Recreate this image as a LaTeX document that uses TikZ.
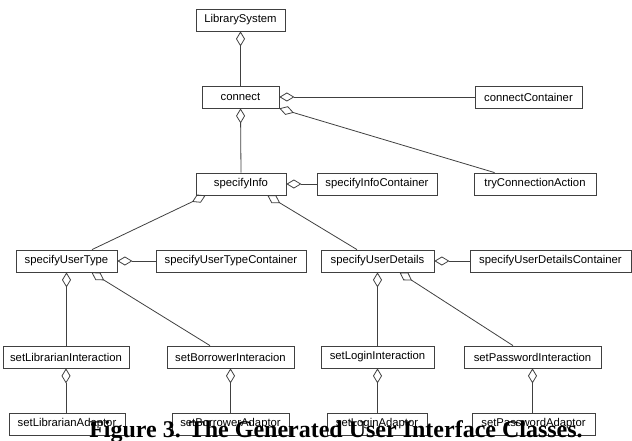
\documentclass[tikz,border=0pt]{standalone}
\usepackage{fontspec}
\setmainfont{Liberation Serif}
\setsansfont{Liberation Sans}
\usetikzlibrary{arrows.meta}
\begin{document}
\begin{tikzpicture}[x=1pt,y=-1pt,
  cls/.style={draw=black!75, line width=0.8pt, minimum height=22pt, inner sep=0pt,
    font=\sffamily\fontsize{11.3}{13}\selectfont, fill=white},
  agg/.style={draw=black!75, line width=0.8pt,
    {Diamond[open, length=15pt, width=9pt]}-}]
\useasboundingbox (0,0) rectangle (632,441);
\node[cls, minimum width=89pt] (ls) at (240.5,20) {LibrarySystem};
\node[cls, minimum width=77pt] (cn) at (240.5,97) {connect};
\node[cls, minimum width=107pt] (cc) at (528.5,97) {connectContainer};
\node[cls, minimum width=90pt] (si) at (241,184) {specifyInfo};
\node[cls, minimum width=120pt] (sic) at (377,184) {specifyInfoContainer};
\node[cls, minimum width=122pt] (tca) at (535,184) {tryConnectionAction};
\node[cls, minimum width=101pt] (sut) at (66.5,261) {specifyUserType};
\node[cls, minimum width=150pt] (sutc) at (231,261) {specifyUserTypeContainer};
\node[cls, minimum width=113pt] (sud) at (377.5,261) {specifyUserDetails};
\node[cls, minimum width=161pt] (sudc) at (550.5,261) {specifyUserDetailsContainer};
\node[cls, minimum width=126pt] (sli) at (66,357) {setLibrarianInteraction};
\node[cls, minimum width=127pt] (sbi) at (230.5,357) {setBorrowerInteracion};
\node[cls, minimum width=113pt] (sloi) at (377.5,357) {setLoginInteraction};
\node[cls, minimum width=137pt] (spi) at (532.5,357) {setPasswordInteraction};
\node[cls, minimum width=116pt] (sla) at (67,424) {setLibrarianAdaptor};
\node[cls, minimum width=117pt] (sba) at (230.5,424) {setBorrowerAdaptor};
\node[cls, minimum width=100pt] (sloa) at (377,424) {setLoginAdaptor};
\node[cls, minimum width=123pt] (spa) at (533.5,424) {setPasswordAdaptor};

\draw[agg] (ls.south) -- (cn.north);
\draw[agg] (cn.east) -- (cc.west);
\draw[agg] (cn.south east) -- ([xshift=21pt]tca.north west);
\draw[agg] (cn.south) -- (si.north);
\draw[agg] (si.east) -- (sic.west);
\draw[agg] ([xshift=10pt]si.south west) -- ([xshift=25.5pt]sut.north);
\draw[agg] ([xshift=-19pt]si.south east) -- ([xshift=-20.5pt]sud.north);
\draw[agg] (sut.east) -- (sutc.west);
\draw[agg] (sut.south) -- (sut.south |- sli.north);
\draw[agg] ([xshift=25pt]sut.south) -- ([xshift=-20.5pt]sbi.north);
\draw[agg] (sud.east) -- (sudc.west);
\draw[agg] (sud.south) -- (sloi.north);
\draw[agg] ([xshift=22pt]sud.south) -- ([xshift=-19.5pt]spi.north);
\draw[agg] (sli.south) -- (sli.south |- sla.north);
\draw[agg] (sbi.south) -- (sba.north);
\draw[agg] (sloi.south) -- (sloi.south |- sloa.north);
\draw[agg] (spi.south) -- (spi.south |- spa.north);

\node[anchor=base, inner sep=0pt, font=\bfseries\fontsize{24}{26}\selectfont] (cap) at (336,437)
  {Figure 3. The Generated User Interface Classes.};
\end{tikzpicture}
\end{document}
